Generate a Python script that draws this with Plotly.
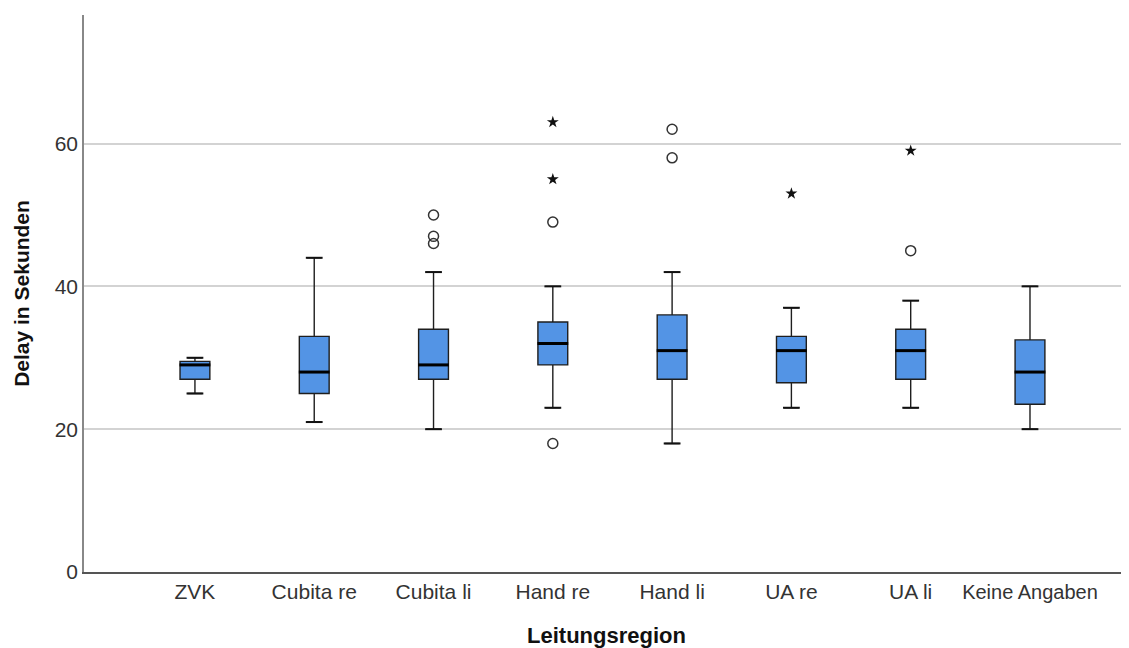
import plotly.graph_objects as go

categories = ["ZVK", "Cubita re", "Cubita li", "Hand re", "Hand li", "UA re", "UA li", "Keine Angaben"]
lower = [25, 21, 20, 23, 18, 23, 23, 20]
q1 = [27, 25, 27, 29, 27, 26.5, 27, 23.5]
median = [29, 28, 29, 32, 31, 31, 31, 28]
q3 = [29.5, 33, 34, 35, 36, 33, 34, 32.5]
upper = [30, 44, 42, 40, 42, 37, 38, 40]

circle_cat = [2, 2, 2, 3, 3, 4, 4, 6]
circle_val = [46, 47, 50, 49, 18, 58, 62, 45]
star_cat = [3, 3, 5, 6]
star_val = [55, 63, 53, 59]

pos = list(range(len(categories)))

fig = go.Figure()
fig.add_trace(go.Box(
    x=pos, q1=q1, median=median, q3=q3, lowerfence=lower, upperfence=upper,
    width=0.25, fillcolor="#5394e5", line=dict(color="#1e1e1e", width=1.4),
    boxpoints=False, showlegend=False, hoverinfo="skip",
))
# whisker caps
fig.add_trace(go.Scatter(
    x=pos + pos, y=lower + upper, mode="markers",
    marker=dict(symbol="line-ew", size=12, line=dict(color="#111", width=2)),
    showlegend=False, hoverinfo="skip",
))
# thick medians
fig.add_trace(go.Scatter(
    x=pos, y=median, mode="markers",
    marker=dict(symbol="line-ew", size=22, line=dict(color="#000", width=3)),
    showlegend=False, hoverinfo="skip",
))
fig.add_trace(go.Scatter(
    x=circle_cat, y=circle_val, mode="markers",
    marker=dict(symbol="circle-open", size=10, color="#333", line=dict(width=1.5)),
    showlegend=False, hoverinfo="skip",
))
fig.add_trace(go.Scatter(
    x=star_cat, y=star_val, mode="markers",
    marker=dict(symbol="star", size=9, color="#111"),
    showlegend=False, hoverinfo="skip",
))

ticktext = categories[:-1] + ["<span style='font-size:20px'>Keine Angaben</span>"]

fig.update_layout(
    width=1121, height=640,
    margin=dict(l=76, r=0, t=7, b=76),
    paper_bgcolor="white", plot_bgcolor="white",
    font=dict(family="Liberation Sans, Arial, sans-serif", color="#333"),
    xaxis=dict(
        range=[-0.93, 7.83], tickvals=pos, ticktext=ticktext,
        tickfont=dict(size=21, color="#333"), ticks="",
        showgrid=False, zeroline=False,
        showline=True, linecolor="#555", linewidth=1.5,
        title=dict(text="<b>Leitungsregion</b>", font=dict(size=22, color="#111"), standoff=27),
    ),
    yaxis=dict(
        range=[0, 78], tickvals=[0, 20, 40, 60],
        tickfont=dict(size=21, color="#333"), ticks="",
        showgrid=True, gridcolor="#d3d3d3", gridwidth=1.5,
        zeroline=False, showline=True, linecolor="#888", linewidth=1.5,
        title=dict(text="<b>Delay in Sekunden</b>", font=dict(size=21, color="#111"), standoff=19),
    ),
)

fig.write_html("out.html")
